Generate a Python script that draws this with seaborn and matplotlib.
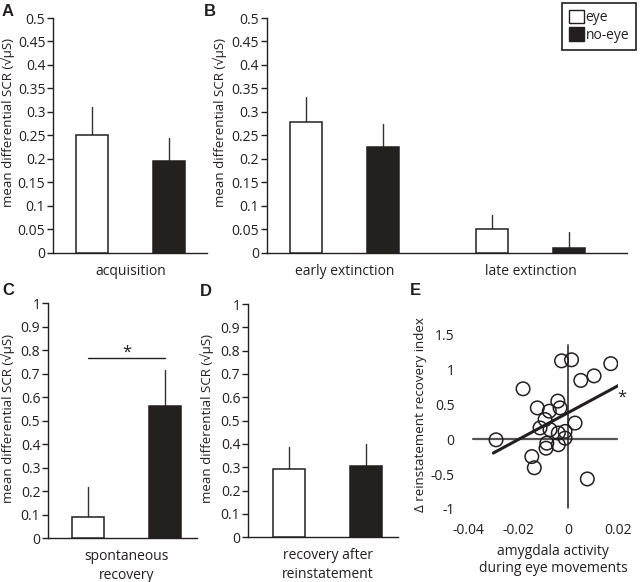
import numpy as np
import pandas as pd
import matplotlib
matplotlib.use('Agg')
import matplotlib.pyplot as plt
import seaborn as sns
from matplotlib.patches import Patch

ink = '#231f20'
sns.set_theme(style='white', rc={'text.color': ink, 'axes.labelcolor': ink,
                                 'xtick.color': ink, 'ytick.color': ink,
                                 'axes.edgecolor': ink})
plt.rcParams['font.family'] = ['Open Sans', 'DejaVu Sans']
plt.rcParams['axes.unicode_minus'] = False

groups = ['eye', 'no-eye']
palette = {'eye': 'white', 'no-eye': ink}

# A - acquisition
acq_phases = ['acquisition']
acq_eye, acq_eye_err = [0.251], [0.059]
acq_noeye, acq_noeye_err = [0.196], [0.049]

# B - extinction
ext_phases = ['early extinction', 'late extinction']
ext_eye, ext_eye_err = [0.279, 0.050], [0.052, 0.030]
ext_noeye, ext_noeye_err = [0.226, 0.011], [0.048, 0.034]

# C - spontaneous recovery
spont_phases = ['spontaneous\nrecovery']
spont_eye, spont_eye_err = [0.092], [0.125]
spont_noeye, spont_noeye_err = [0.563], [0.153]
spont_sig = 0.769

# D - reinstatement
reinst_phases = ['recovery after\nreinstatement']
reinst_eye, reinst_eye_err = [0.293], [0.096]
reinst_noeye, reinst_noeye_err = [0.306], [0.094]

# E - amygdala activity vs reinstatement index
amyg = [-0.0289, -0.0181, -0.0027, 0.0013, 0.0170, 0.0103, 0.0050,
        -0.0124, -0.0042, -0.0033, -0.0076, -0.0093, -0.0113, -0.0073,
        0.0027, -0.0040, -0.0013, -0.0013, -0.0086, -0.0089, -0.0040,
        -0.0146, -0.0136, 0.0076]
reinst_idx = [-0.01, 0.72, 1.12, 1.135, 1.08, 0.905, 0.84,
              0.447, 0.544, 0.447, 0.40, 0.28, 0.16, 0.136,
              0.23, 0.087, 0.11, 0.014, -0.058, -0.13, -0.08,
              -0.25, -0.41, -0.57]
fit_slope, fit_intercept = 19.3, 0.38
fit_range = [-0.030, 0.0207]

ylab = 'mean differential SCR (√µS)'
tick_fs = 10
lab_fs = 9.6

W, H = 640, 582
fig = plt.figure(figsize=(W / 100, H / 100), dpi=100)


def px_axes(left, right, top, bottom):
    return fig.add_axes([left / W, 1 - bottom / H, (right - left) / W, (bottom - top) / H])


def bar_panel(ax, phases, eye, eye_err, noeye, noeye_err, ymax, step, xlim, label_xy):
    n = len(phases)
    df = pd.DataFrame({'phase': phases * 2,
                       'group': ['eye'] * n + ['no-eye'] * n,
                       'value': eye + noeye})
    sns.barplot(data=df, x='phase', y='value', hue='group', hue_order=groups,
                palette=palette, width=0.83, gap=0.585, edgecolor=ink,
                linewidth=1.1, errorbar=None, legend=False, ax=ax, zorder=3)
    for cont, errs in zip(ax.containers, [eye_err, noeye_err]):
        for bar, e in zip(cont, errs):
            xc = bar.get_x() + bar.get_width() / 2
            top = bar.get_height()
            ax.plot([xc, xc], [top, top + e], color='#333333', lw=1, zorder=2)
    ticks = np.round(np.arange(0, ymax + step / 2, step), 2)
    ax.set_yticks(ticks)
    ax.set_yticklabels([f'{t:g}' for t in ticks])
    ax.set_ylim(0, ymax)
    ax.set_xlim(*xlim)
    sns.despine(ax=ax)
    for s in ['left', 'bottom']:
        ax.spines[s].set_linewidth(1)
        ax.spines[s].set_color(ink)
    ax.tick_params(axis='y', left=True, direction='out', length=4, width=1,
                   labelsize=tick_fs, pad=1.5)
    ax.tick_params(axis='x', bottom=False, labelsize=tick_fs, pad=2)
    for t in ax.get_xticklabels():
        t.set_linespacing(1.35)
    ax.set_xlabel('')
    ax.set_ylabel(ylab, fontsize=lab_fs)
    ax.yaxis.set_label_coords(*label_xy)


ax_a = px_axes(53, 207, 18, 252.7)
bar_panel(ax_a, acq_phases, acq_eye, acq_eye_err, acq_noeye, acq_noeye_err,
          0.5, 0.05, (-0.418, 0.41), (-0.247, 0.555))

ax_b = px_axes(266.7, 627, 18, 252.7)
bar_panel(ax_b, ext_phases, ext_eye, ext_eye_err, ext_noeye, ext_noeye_err,
          0.5, 0.05, (-0.418, 1.517), (-0.110, 0.555))

ax_c = px_axes(48, 197, 303.3, 538.3)
bar_panel(ax_c, spont_phases, spont_eye, spont_eye_err, spont_noeye, spont_noeye_err,
          1.0, 0.1, (-0.423, 0.378), (-0.22, 0.51))
c0 = ax_c.containers[0][0]
c1 = ax_c.containers[1][0]
x0 = c0.get_x() + c0.get_width() / 2
x1 = c1.get_x() + c1.get_width() / 2
ax_c.plot([x0, x1], [spont_sig, spont_sig], color=ink, lw=1)
ax_c.text((x0 + x1) / 2, spont_sig + 0.005, '*', ha='center', va='baseline', fontsize=12)

ax_d = px_axes(248, 398, 304, 537.3)
bar_panel(ax_d, reinst_phases, reinst_eye, reinst_eye_err, reinst_noeye, reinst_noeye_err,
          1.0, 0.1, (-0.429, 0.378), (-0.227, 0.51))

# E
ax_e = px_axes(468.3, 618.3, 334.3, 509)
ax_e.axhline(0, xmin=0.03, xmax=0.99, color='#555555', lw=1.6, zorder=1)
ax_e.axvline(0, ymin=0.005, ymax=0.94, color=ink, lw=1.1, zorder=1)
sns.scatterplot(x=amyg, y=reinst_idx, s=95, facecolors='none', edgecolor=ink,
                linewidth=1.1, ax=ax_e, zorder=3)
fx = np.array(fit_range)
ax_e.plot(fx, fit_intercept + fit_slope * fx, color=ink, lw=2.2, zorder=4)
ax_e.text(0.0216, 0.53, '*', ha='center', va='baseline', fontsize=12, clip_on=False)
ax_e.set_xlim(-0.04, 0.02)
ax_e.set_ylim(-1, 1.5)
ax_e.set_xticks([-0.04, -0.02, 0, 0.02])
ax_e.set_xticklabels(['-0.04', '-0.02', '0', '0.02'])
ax_e.set_yticks([-1, -0.5, 0, 0.5, 1, 1.5])
ax_e.set_yticklabels(['-1', '-0.5', '0', '0.5', '1', '1.5'])
sns.despine(ax=ax_e, left=True, bottom=True)
ax_e.tick_params(axis='both', length=0, labelsize=tick_fs)
ax_e.tick_params(axis='y', pad=10)
ax_e.tick_params(axis='x', pad=10)
ax_e.set_xlabel('amygdala activity\nduring eye movements', fontsize=tick_fs)
ax_e.xaxis.set_label_coords(0.565, -0.2)
ax_e.set_ylabel('Δ reinstatement recovery index', fontsize=lab_fs)
ax_e.yaxis.set_label_coords(-0.275, 0.538)

# legend
handles = [Patch(facecolor='white', edgecolor=ink, lw=1), Patch(facecolor=ink, edgecolor=ink)]
leg = fig.legend(handles, groups, loc='upper right', bbox_to_anchor=(636 / W, 1 - 3 / H),
                 frameon=True, fancybox=False, edgecolor=ink, framealpha=1,
                 handlelength=1.1, handleheight=1.1, handletextpad=0.1,
                 borderpad=0.5, labelspacing=0.15, fontsize=10, borderaxespad=0)
leg.get_frame().set_linewidth(1.2)

# panel letters
for letter, lx, ly in [('A', 2, 4), ('B', 204, 4), ('C', 2, 283), ('D', 200, 284), ('E', 410, 283)]:
    fig.text(lx / W, 1 - ly / H, letter, fontsize=12, fontweight='bold', va='top', ha='left',
             family=['Liberation Sans', 'DejaVu Sans'])

fig.savefig('out.png', dpi=100)
